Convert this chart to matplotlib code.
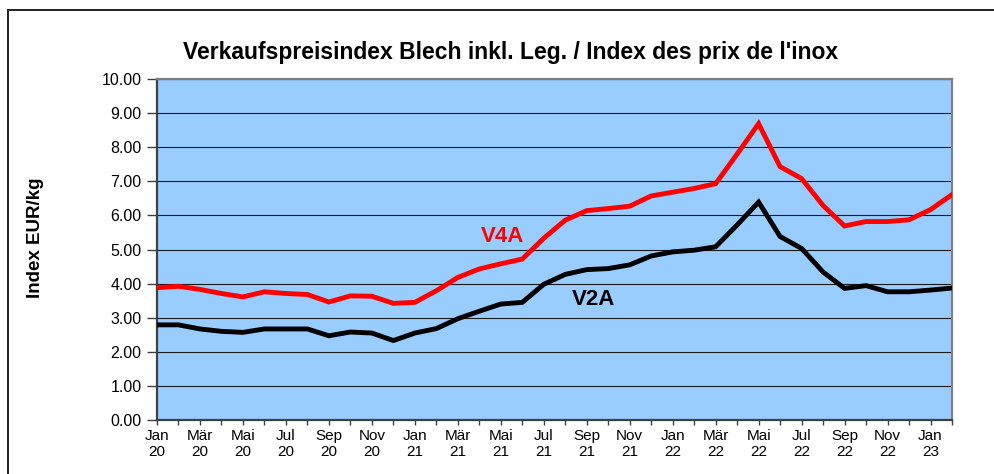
import matplotlib.pyplot as plt
import numpy as np

plt.rcParams['font.family'] = ['Liberation Sans', 'DejaVu Sans']

# monthly index values Jan 20 .. Feb 23
months = ['Jan\n20', '', 'Mär\n20', '', 'Mai\n20', '', 'Jul\n20', '', 'Sep\n20', '', 'Nov\n20', '',
          'Jan\n21', '', 'Mär\n21', '', 'Mai\n21', '', 'Jul\n21', '', 'Sep\n21', '', 'Nov\n21', '',
          'Jan\n22', '', 'Mär\n22', '', 'Mai\n22', '', 'Jul\n22', '', 'Sep\n22', '', 'Nov\n22', '',
          'Jan\n23', '']
v4a = [3.88, 3.92, 3.83, 3.71, 3.61, 3.76, 3.71, 3.68, 3.46, 3.64, 3.63, 3.42, 3.45,
       3.79, 4.18, 4.43, 4.58, 4.72, 5.33, 5.86, 6.14, 6.20, 6.27, 6.57, 6.68, 6.79,
       6.93, 7.80, 8.69, 7.43, 7.08, 6.29, 5.69, 5.82, 5.82, 5.87, 6.17, 6.61]
v2a = [2.79, 2.79, 2.67, 2.60, 2.57, 2.67, 2.67, 2.67, 2.47, 2.58, 2.55, 2.33, 2.55,
       2.68, 2.97, 3.19, 3.40, 3.45, 3.98, 4.27, 4.41, 4.44, 4.55, 4.81, 4.93, 4.98,
       5.08, 5.72, 6.39, 5.38, 5.03, 4.34, 3.86, 3.94, 3.76, 3.76, 3.81, 3.87]
y_ticks = np.arange(0, 11, 1)

x = np.arange(len(v4a))

fig = plt.figure(figsize=(9.94, 4.74), dpi=100)
ax = fig.add_axes([157 / 994, 54 / 474, 795 / 994, 341 / 474])
ax.set_facecolor('#99ccff')

ax.plot(x, v4a, color='#ff0000', lw=3.5, solid_joinstyle='miter', zorder=3)
ax.plot(x, v2a, color='#000000', lw=3.5, solid_joinstyle='miter', zorder=3)

ax.text(16.1, 5.37, 'V4A', color='#ff0000', fontsize=16, fontweight='bold',
        ha='center', va='center')
ax.text(20.3, 3.52, 'V2A', color='#000000', fontsize=16, fontweight='bold',
        ha='center', va='center')

ax.set_xlim(0, len(v4a) - 1)
ax.set_ylim(0, 10)
ax.set_xticks(x)
ax.set_xticklabels(months, fontsize=11, linespacing=1.2)
ax.set_yticks(y_ticks)
ax.set_yticklabels([f'{v:.2f}' for v in y_ticks], fontsize=11.5)
ax.tick_params(axis='y', direction='out', length=7, width=1, color='#404040', pad=4)
ax.tick_params(axis='x', direction='out', length=3.5, width=1, color='#404040', pad=3)

ax.grid(axis='y', color='#1a1a1a', lw=0.8)
ax.set_axisbelow(True)
for s in ('top', 'right'):
    ax.spines[s].set_color('#808080')
    ax.spines[s].set_linewidth(1.6)
for s in ('left', 'bottom'):
    ax.spines[s].set_color('#404040')
    ax.spines[s].set_linewidth(1.6)

fig.text(511 / 994, 1 - 52 / 474, "Verkaufspreisindex Blech inkl. Leg. / Index des prix de l'inox",
         fontsize=16.5, fontweight='bold', ha='center', va='center')
fig.text(35 / 994, 1 - 238 / 474, 'Index EUR/kg', fontsize=13.5, fontweight='bold',
         rotation=90, ha='center', va='center')

# outer frame (top and left edges only visible)
fig.add_artist(plt.Line2D([8 / 994, 1], [1 - 9.5 / 474, 1 - 9.5 / 474], color='#202020', lw=1.4))
fig.add_artist(plt.Line2D([8 / 994, 8 / 994], [0, 1 - 9.5 / 474], color='#202020', lw=1.4))

fig.savefig('out.png', dpi=100)
